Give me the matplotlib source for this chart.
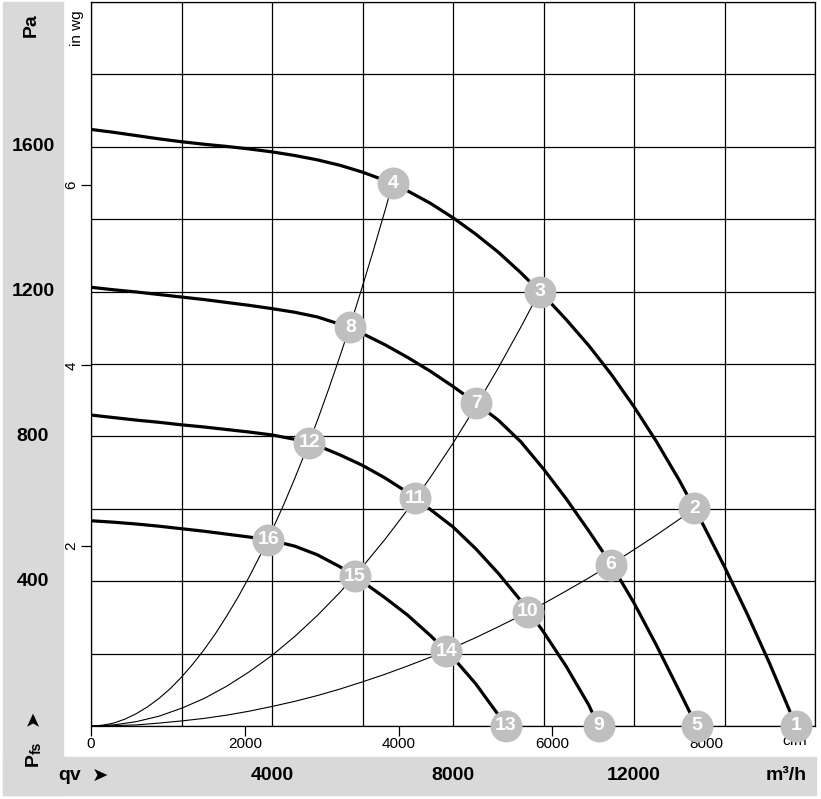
import matplotlib
matplotlib.use('Agg')
import matplotlib.pyplot as plt
import matplotlib.transforms as mtransforms
from matplotlib.patches import Rectangle

plt.rcParams['font.family'] = ['Liberation Sans', 'DejaVu Sans']

# fan curves, flow in m3/h and static pressure in Pa
fan1_q = [0, 500, 1000, 1500, 2000, 2500, 3000, 3500, 4000, 4500, 5000, 5500, 6000,
          6500, 7000, 7500, 8000, 8500, 9000, 9500, 10000, 10500, 11000, 11500,
          12000, 12500, 13000, 13500, 14000, 14500, 15000, 15582]
fan1_p = [1648, 1640, 1631, 1622, 1614, 1607, 1601, 1594, 1586, 1576, 1564, 1549, 1530,
          1507, 1478, 1444, 1404, 1359, 1309, 1252, 1190, 1123, 1051, 971,
          882, 785, 679, 563, 440, 310, 172, 0]

fan2_q = [0, 500, 1000, 1500, 2000, 2500, 3000, 3500, 4000, 4500, 5000, 5500, 6000,
          6500, 7000, 7500, 8000, 8500, 9000, 9500, 10000, 10500, 11000, 11500,
          12000, 12500, 13000, 13382]
fan2_p = [1212, 1205, 1199, 1192, 1185, 1178, 1170, 1162, 1153, 1143, 1130, 1110, 1084,
          1053, 1018, 980, 938, 893, 845, 785, 710, 628, 539, 446,
          340, 222, 97, 0]

fan3_q = [0, 500, 1000, 1500, 2000, 2500, 3000, 3500, 4000, 4500, 5000, 5500, 6000,
          6500, 7000, 7500, 8000, 8500, 9000, 9500, 10000, 10500, 11000, 11217]
fan3_p = [859, 852, 845, 839, 832, 826, 819, 812, 804, 792, 775, 749, 720,
          685, 645, 598, 550, 490, 422, 346, 260, 165, 58, 0]

fan4_q = [0, 500, 1000, 1500, 2000, 2500, 3000, 3500, 4000, 4500, 5000, 5500, 6000,
          6500, 7000, 7500, 8000, 8500, 9000, 9163]
fan4_p = [567, 563, 558, 552, 545, 538, 530, 522, 512, 497, 473, 440, 399,
          354, 306, 250, 189, 117, 31, 0]

# system curves (thin lines)
sysA_q = [0, 250, 500, 750, 1000, 1250, 1500, 1750, 2000, 2250, 2500, 2750, 3000, 3250,
          3500, 3750, 4000, 4250, 4500, 4750, 5000, 5250, 5500, 5750, 6000, 6250, 6500, 6668]
sysA_p = [0, 2, 8, 19, 34, 53, 76, 103, 135, 171, 211, 255, 304, 356,
          413, 474, 540, 609, 683, 761, 843, 930, 1021, 1115, 1215, 1318, 1425, 1500]

sysB_q = [0, 500, 1000, 1500, 2000, 2500, 3000, 3500, 4000, 4500, 5000, 5500, 6000,
          6500, 7000, 7500, 8000, 8500, 9000, 9500, 9914]
sysB_p = [0, 3, 12, 27, 49, 76, 110, 150, 195, 247, 305, 369, 440,
          516, 598, 687, 781, 882, 989, 1102, 1200]

sysC_q = [0, 500, 1000, 1500, 2000, 2500, 3000, 3500, 4000, 4500, 5000, 5500, 6000,
          6500, 7000, 7500, 8000, 8500, 9000, 9500, 10000, 10500, 11000, 11500,
          12000, 12500, 13000, 13337]
sysC_p = [0, 1, 3, 8, 14, 21, 30, 41, 54, 68, 84, 102, 122,
          143, 166, 190, 216, 244, 274, 305, 338, 373, 409, 447,
          487, 528, 571, 601]

# operating points
pt_labels = [str(i) for i in range(1, 17)]
pt_q = [15582, 13337, 9914, 6668, 13382, 11482, 8516, 5734,
        11217, 9656, 7169, 4820, 9163, 7854, 5829, 3915]
pt_p = [0, 601, 1200, 1500, 0, 445, 891, 1101,
        0, 316, 629, 782, 0, 207, 414, 514]

# axis labels
pa_ticks = [400, 800, 1200, 1600]
m3h_ticks = [4000, 8000, 12000]
cfm_ticks = [0, 2000, 4000, 6000, 8000]
inwg_ticks = [2, 4, 6]

W, H = 821, 799
fig = plt.figure(figsize=(W / 100, H / 100), dpi=100)
fig.patch.set_facecolor('white')


def fx(x):
    return x / W


def fy(y):
    return 1 - y / H


# grey L-shaped band
band = '#d9d9d9'
fig.add_artist(Rectangle((fx(3), fy(795)), fx(63) - fx(3), fy(2) - fy(795),
                         transform=fig.transFigure, color=band, zorder=0))
fig.add_artist(Rectangle((fx(3), fy(795)), fx(816) - fx(3), fy(757) - fy(795),
                         transform=fig.transFigure, color=band, zorder=0))

ax = fig.add_axes([fx(91), fy(726), (815 - 91) / W, (726 - 2) / H])
ax.set_xlim(0, 16000)
ax.set_ylim(0, 2000)
ax.set_xticks(range(0, 16001, 2000))
ax.set_yticks(range(0, 2001, 200))
ax.grid(True, color='black', linewidth=0.9)
ax.set_axisbelow(True)
ax.tick_params(length=0, labelbottom=False, labelleft=False)
for s in ax.spines.values():
    s.set_linewidth(0.9)

# thin system curves
for q, p in [(sysA_q, sysA_p), (sysB_q, sysB_p), (sysC_q, sysC_p)]:
    ax.plot(q, p, color='black', linewidth=0.8, zorder=3)

# thick fan curves
for q, p in [(fan1_q, fan1_p), (fan2_q, fan2_p), (fan3_q, fan3_p), (fan4_q, fan4_p)]:
    ax.plot(q, p, color='black', linewidth=2.3, zorder=4, solid_joinstyle='round')

# numbered circles
ax.plot(pt_q, pt_p, 'o', markersize=23, markerfacecolor='#bfbfbf',
        markeredgewidth=0, zorder=10, clip_on=False)
for lab, q, p in zip(pt_labels, pt_q, pt_p):
    ax.text(q, p, lab, ha='center', va='center', color='white', fontsize=14,
            fontweight='bold', zorder=11, clip_on=False)

# in wg secondary axis
secy = ax.secondary_yaxis('left', functions=(lambda p: p / 249.09, lambda w: w * 249.09))
secy.set_yticks(inwg_ticks)
secy.set_yticklabels([str(t) for t in inwg_ticks], rotation=90, va='center')
secy.tick_params(length=7, width=0.9, labelsize=11, pad=2)
secy.spines['left'].set_visible(False)

# cfm secondary axis
secx = ax.secondary_xaxis('bottom', functions=(lambda q: q / 1.699, lambda c: c * 1.699))
secx.set_xticks(cfm_ticks)
secx.set_xticklabels([str(t) for t in cfm_ticks])
secx.tick_params(length=7, width=0.9, labelsize=11, pad=1)
secx.spines['bottom'].set_visible(False)
secx.set_zorder(1)

ax.text(fx(795), fy(741), 'cfm', transform=fig.transFigure, ha='center', va='center',
        fontsize=11)
ax.text(fx(77), fy(28), 'in wg', transform=fig.transFigure, ha='center', va='center',
        fontsize=11, rotation=90)

# Pa labels in the grey band
blend_y = mtransforms.blended_transform_factory(fig.transFigure, ax.transData)
for p in pa_ticks:
    ax.text(fx(33), p, str(p), transform=blend_y, ha='center', va='center',
            fontsize=14, fontweight='bold')
ax.text(fx(31), fy(25), 'Pa', transform=fig.transFigure, ha='center', va='center',
        fontsize=14, fontweight='bold', rotation=90)

# m3/h labels in the grey band
blend_x = mtransforms.blended_transform_factory(ax.transData, fig.transFigure)
for q in m3h_ticks:
    ax.text(q, fy(776), str(q), transform=blend_x, ha='center', va='center',
            fontsize=14, fontweight='bold')
ax.text(fx(807), fy(776), 'm³/h', transform=fig.transFigure, ha='right', va='center',
        fontsize=14, fontweight='bold')
ax.text(fx(58), fy(776), 'qv', transform=fig.transFigure, ha='left', va='center',
        fontsize=14, fontweight='bold')
ax.text(fx(92), fy(776), '➤', transform=fig.transFigure, ha='left', va='center',
        fontsize=14, family=['DejaVu Sans'])

# P_fs label, reading bottom to top
ax.text(fx(33), fy(753), 'P', transform=fig.transFigure, ha='center', va='top',
        fontsize=14, fontweight='bold', rotation=90)
ax.text(fx(37), fy(754), 'fs', transform=fig.transFigure, ha='center', va='bottom',
        fontsize=10, fontweight='bold', rotation=90)
ax.text(fx(33), fy(718), '➤', transform=fig.transFigure, ha='center', va='center',
        fontsize=14, rotation=90, family=['DejaVu Sans'])

fig.savefig('out.png', dpi=100)
